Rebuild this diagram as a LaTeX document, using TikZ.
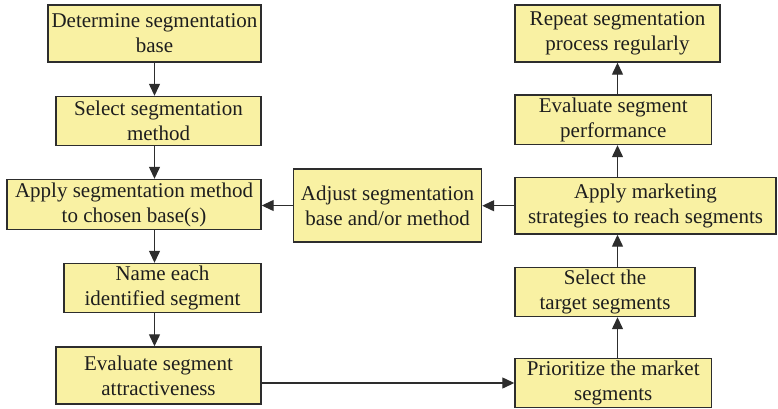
\documentclass[tikz,border=0pt]{standalone}
\usepackage{fontspec}
\setmainfont{Liberation Serif}
\usetikzlibrary{arrows.meta}
\definecolor{boxfill}{RGB}{249,241,163}
\definecolor{boxline}{RGB}{45,45,45}
\definecolor{inktext}{RGB}{30,30,30}
\tikzset{
  stepbox/.style={draw=boxline, line width=1.4pt, fill=boxfill, text=inktext,
    align=center, inner sep=0pt, font=\fontsize{21}{25}\selectfont},
  flow/.style={draw=boxline, line width=1.3pt,
    -{Triangle[length=12pt,width=11pt]}},
  plain/.style={draw=boxline, line width=1.3pt}
}
\begin{document}
\begin{tikzpicture}[x=1pt,y=-1pt]
\useasboundingbox (0,0) rectangle (778,409);

% left column
\node[stepbox, minimum width=213pt, minimum height=57pt] (b1) at (154.5,33.5)
  {Determine segmentation\\base};
\node[stepbox, minimum width=205pt, minimum height=49pt] (b2) at (158.5,121)
  {Select segmentation\\method};
\node[stepbox, minimum width=254pt, minimum height=50pt] (b3) at (134,204.5)
  {Apply segmentation method\\to chosen base(s)};
\node[stepbox, minimum width=197pt, minimum height=49pt] (b4) at (162.5,288)
  {Name each\\identified segment};
\node[stepbox, minimum width=205pt, minimum height=57pt] (b5) at (158.5,375.5)
  {Evaluate segment\\attractiveness};

% middle
\node[stepbox, minimum width=188pt, minimum height=73pt] (b6) at (387.5,205.5)
  {Adjust segmentation\\base and/or method};

% right column
\node[stepbox, minimum width=205pt, minimum height=57pt] (b7) at (617.5,33.5)
  {Repeat segmentation\\process regularly};
\node[stepbox, minimum width=196.5pt, minimum height=49.5pt] (b8) at (613.25,119.75)
  {Evaluate segment\\performance};
\node[stepbox, minimum width=261pt, minimum height=56.5pt] (b9) at (645.5,205.75)
  {Apply marketing\\strategies to reach segments};
\node[stepbox, minimum width=180pt, minimum height=49pt] (b10) at (605,292)
  {Select the\\target segments};
\node[stepbox, minimum width=196.5pt, minimum height=49pt] (b11) at (613.25,383)
  {Prioritize the market\\segments};

% left column flow, along the axis of the top box
\draw[flow] (b1.south) -- (b2.north -| b1.south);
\draw[flow] (b2.south -| b1.south) -- (b3.north -| b1.south);
\draw[flow] (b3.south -| b1.south) -- (b4.north -| b1.south);
\draw[flow] (b4.south -| b1.south) -- (b5.north -| b1.south);

% across the bottom
\draw[flow] (b5.east |- b11.west) -- (b11.west);

% right column flow, upwards
\draw[flow] (b11.north -| b7.south) -- (b10.south -| b7.south);
\draw[flow] (b10.north -| b7.south) -- (b9.south -| b7.south);
\draw[flow] (b9.north -| b7.south) -- (b8.south -| b7.south);
\draw[flow] (b8.north -| b7.south) -- (b7.south);

% feedback loop
\draw[flow] (b9.west) -- (b9.west -| b6.east);
\draw[flow] (b6.west) -- (b6.west -| b3.east);
\end{tikzpicture}
\end{document}
